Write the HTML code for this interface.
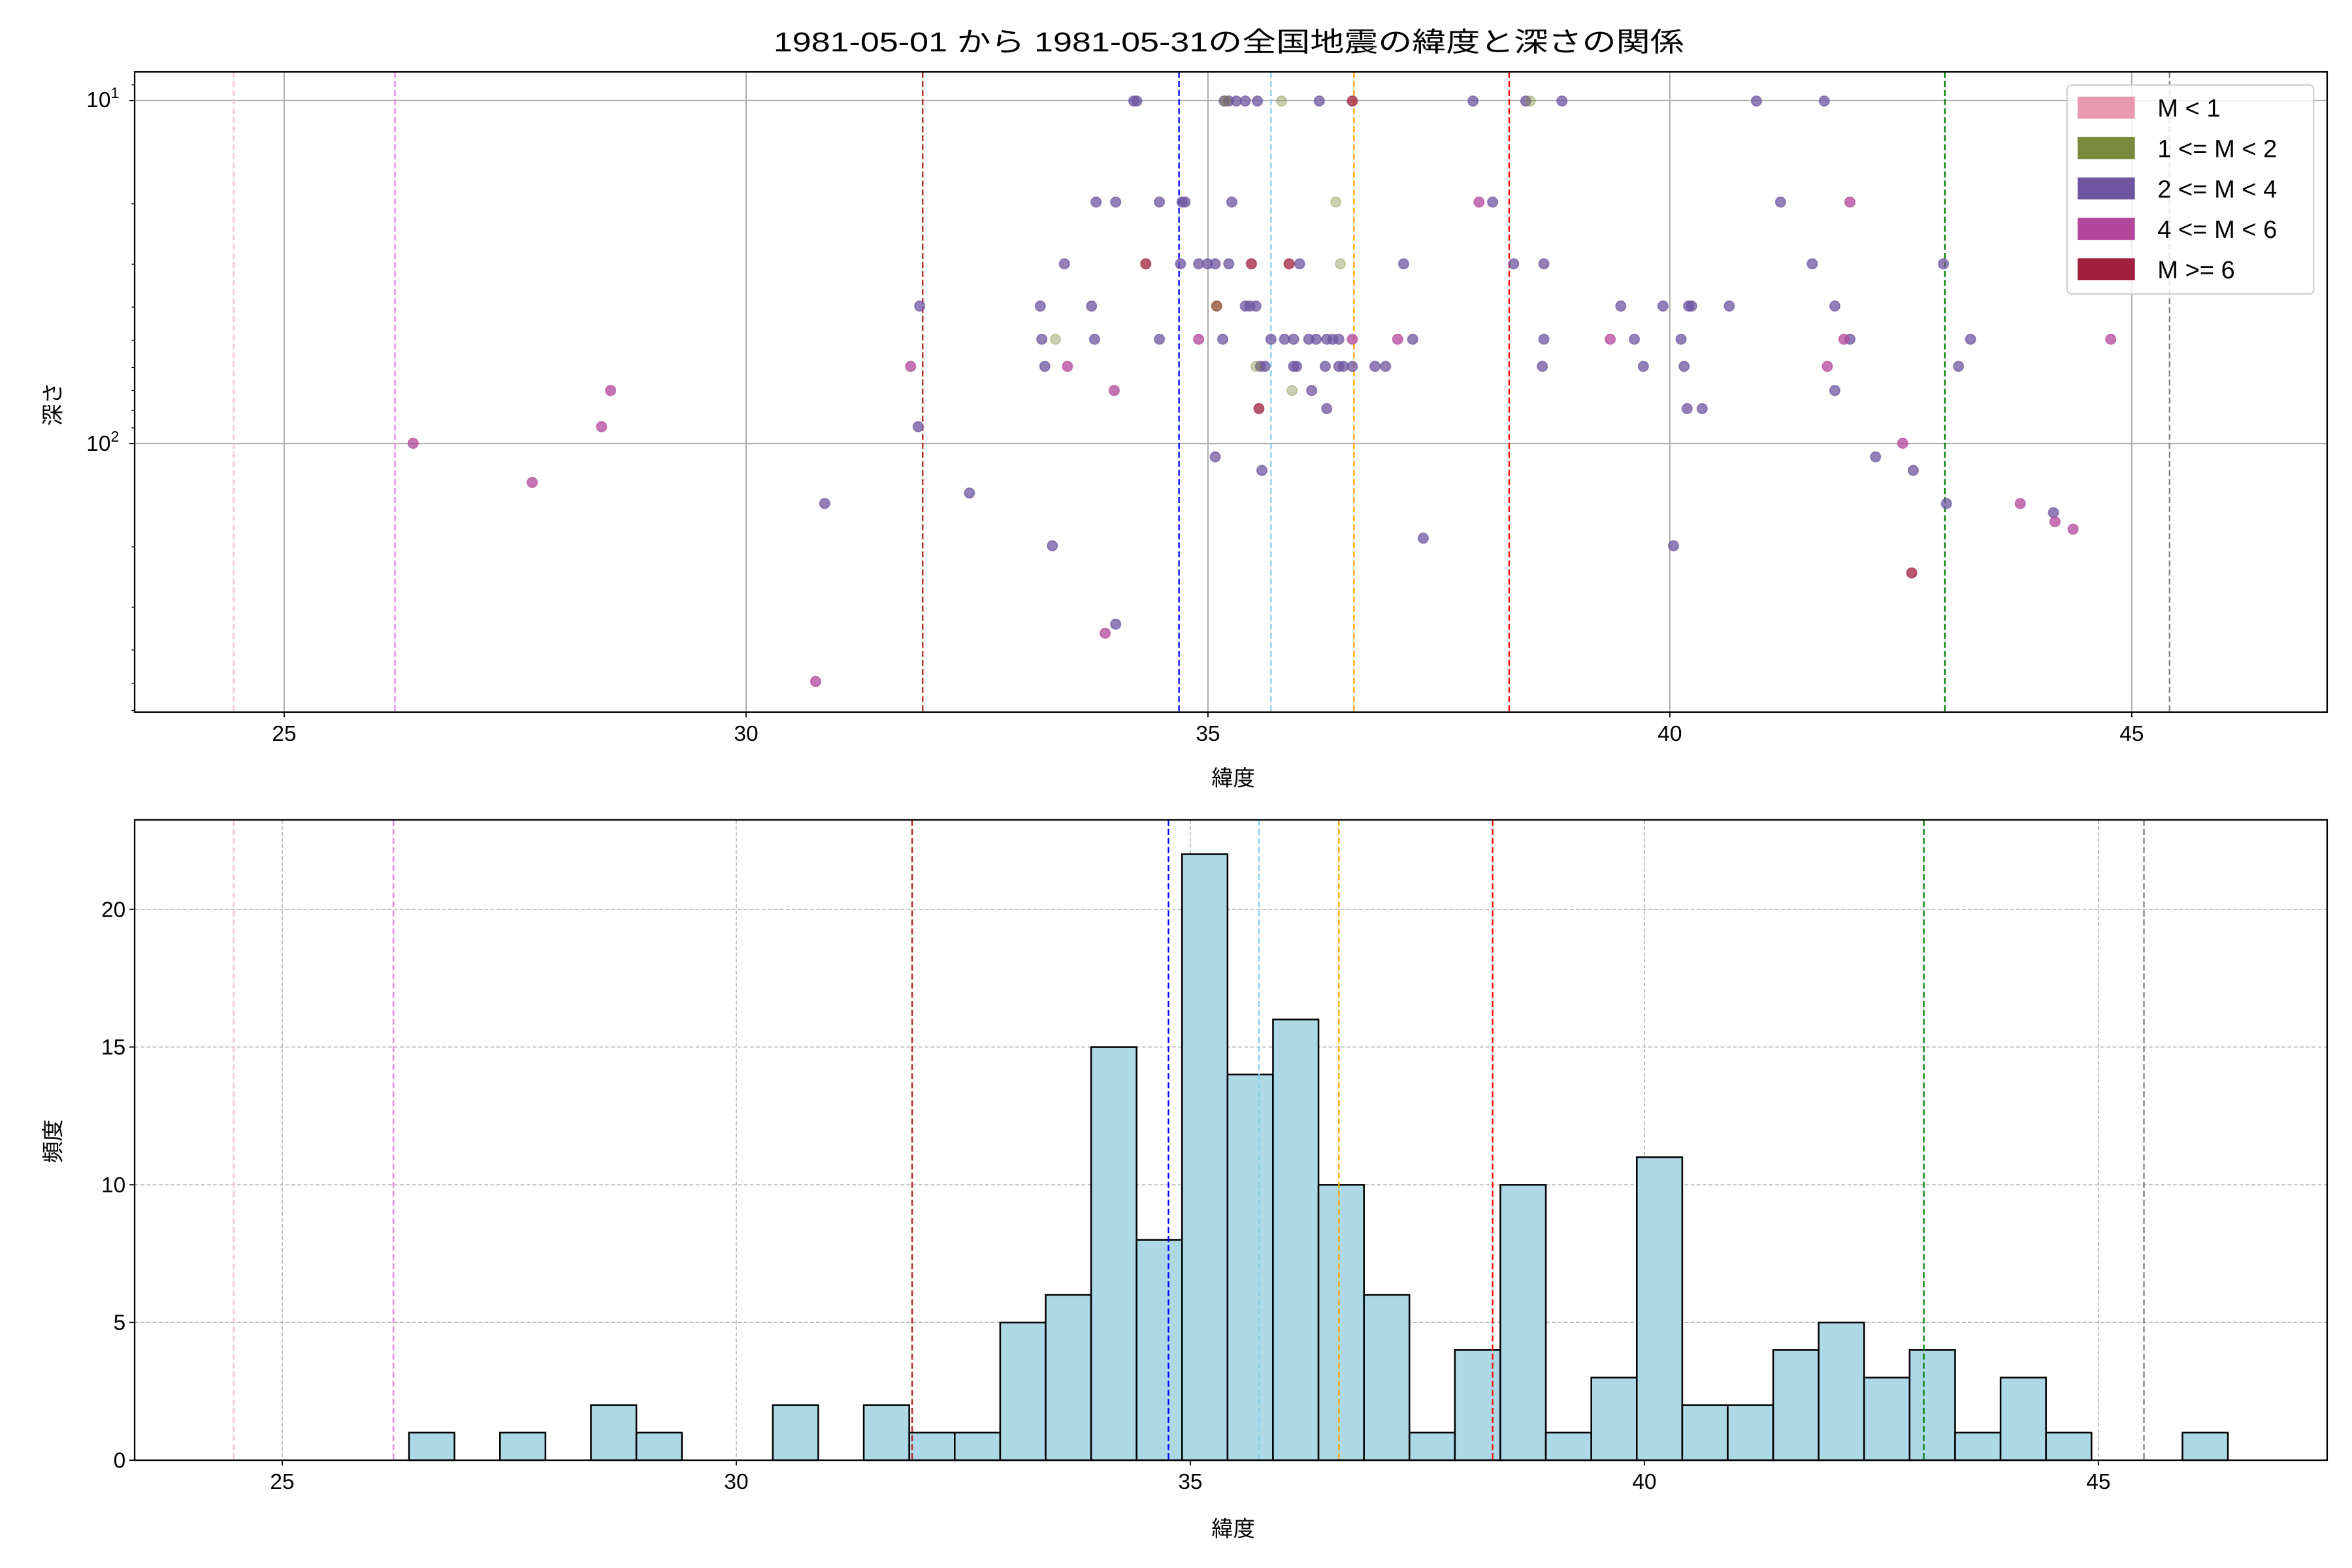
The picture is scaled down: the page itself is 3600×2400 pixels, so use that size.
<!DOCTYPE html>
<html><head><meta charset="utf-8"><style>html,body{margin:0;padding:0;background:#fff}svg{display:block}text{font-family:"Liberation Sans","Noto Sans CJK JP",sans-serif;fill:#000}</style></head>
<body>
<svg id="s" xmlns="http://www.w3.org/2000/svg" width="3600" height="2400" viewBox="0 0 1560 1040">
<rect width="1560" height="1040" fill="#fff"/>
<g id="g"></g>
</svg>
<script>
var g=document.getElementById('g'),h='';
function L(x1,y1,x2,y2,c,w,d){h+='<line x1="'+x1+'" y1="'+y1+'" x2="'+x2+'" y2="'+y2+'" stroke="'+c+'" stroke-width="'+w+'"'+(d?' stroke-dasharray="'+d+'"':'')+'/>';}
function T(x,y,t,a,fs,ex){h+='<text x="'+x+'" y="'+y+'" font-size="'+fs+'" text-anchor="'+a+'" '+(ex||'')+'>'+t+'</text>';}
// ---- top axes
var AL=89.3,AR=1543.5,AT=47.7,AB=472.3;
function tx(d){return 188.5+(d-25)*61.27;}
function ty(d){return 66.7+(Math.log10(d)-1)*227.5;}
[25,30,35,40,45].forEach(function(v){var x=tx(v);L(x,AT,x,AB,'#b0b0b0',0.9);L(x,AB,x,AB+3.5,'#000',0.8);T(x,AB+19,v,'middle',14.5);});
[10,100].forEach(function(v){var y=ty(v);L(AL,y,AR,y,'#b0b0b0',0.9);L(AL-3.5,y,AL,y,'#000',0.8);});
T(79,71,'10<tspan dy="-6" font-size="10">1</tspan>','end',14.5);
T(79,299,'10<tspan dy="-6" font-size="10">2</tspan>','end',14.5);
[9,20,30,40,50,60,70,80,90,200,300,400,500,600].forEach(function(v){var y=ty(v);if(y>AT&&y<AB)L(AL-2,y,AL,y,'#000',0.6);});
var vt=[[155,'pink'],[262,'violet'],[612,'#b22222'],[782,'blue'],[843,'skyblue'],[898,'orange'],[1001,'red'],[1290,'green'],[1439,'gray']];
vt.forEach(function(a){L(a[0],AT,a[0],AB,a[1],1,'4,2');});
var C={o:'#7a8a3d',p:'#6f55a0',m:'#b3479b',r:'#a0213e',b:'#8b4a2a'};
var pts=[
[67,'p',752,754,812,815,820,826,834,875,977,1012,1036,1165,1210],[67,'o',850,1015,813],[67,'r',897],
[134,'p',727,740,769,784,786,817,990,1181],[134,'o',886],[134,'m',981,1227],
[175,'p',706,783,795,801,806,815,862,931,1004,1024,1202,1289],[175,'r',760,830,855],[175,'o',889],
[203,'p',610,690,724,826,829,833,1075,1103,1120,1122,1147,1217],[203,'b',807],
[225,'p',691,726,769,811,843,852,858,868,873,880,884,888,937,1024,1084,1115,1227,1307],[225,'o',700],[225,'m',795,897,927,1068,1223,1400],
[243,'p',693,836,839,858,860,879,888,891,897,912,919,1023,1090,1117,1299],[243,'o',833],[243,'m',604,708,1212],
[259,'m',405,739],[259,'o',857],[259,'p',870,1217],
[271,'r',835],[271,'p',880,1119,1129],
[283,'m',399],[283,'p',609],[294,'m',274,1262],[303,'p',806,1244],[312,'p',837,1269],[320,'m',353],[327,'p',643],
[334,'p',547,1291],[334,'m',1340],[340,'p',1362],[346,'m',1363],[351,'m',1375],[357,'p',944],[362,'p',698,1110],
[380,'r',1268],[414,'p',740],[420,'m',733],[452,'m',541]];
pts.forEach(function(r){var y=r[0],c=C[r[1]];for(var i=2;i<r.length;i++){var op=r[1]=='o'?0.4:0.75;h+='<circle cx="'+r[i]+'" cy="'+y+'" r="3.3" fill="'+c+'" fill-opacity="'+op+'" stroke="'+c+'" stroke-opacity="'+(op*0.9)+'" stroke-width="0.8"/>';}});
h+='<rect x="'+AL+'" y="'+AT+'" width="'+(AR-AL)+'" height="'+(AB-AT)+'" fill="none" stroke="#000" stroke-width="1"/>';
// legend
h+='<rect x="1371" y="56.4" width="163.6" height="138.6" rx="3" fill="#fff" fill-opacity="0.8" stroke="#d0d0d0" stroke-width="1"/>';
var lg=[['#e899b0','M &lt; 1'],['#7a8a3d','1 &lt;= M &lt; 2'],['#6f55a0','2 &lt;= M &lt; 4'],['#b3479b','4 &lt;= M &lt; 6'],['#a0213e','M &gt;= 6']];
lg.forEach(function(a,i){var cy=71.4+i*26.8;h+='<rect x="1378" y="'+(cy-7.3)+'" width="38" height="14.6" fill="'+a[0]+'"/>';T(1431,cy+6,a[1],'start',16.5);});
T(815,34,'1981-05-01 から 1981-05-31の全国地震の緯度と深さの関係','middle',18,'textLength="604" lengthAdjust="spacingAndGlyphs"');
T(818,521,'緯度','middle',14.5);
T(40,268,'深さ','middle',14.5,'transform="rotate(-90 40 268)"');
// ---- bottom axes
var BT=543.8,BB=968.5;
function bx(d){return 187.2+(d-25)*60.23;}
function by(c){return BB-c*18.27;}
[25,30,35,40,45].forEach(function(v){var x=bx(v);L(x,BT,x,BB,'#b0b0b0',0.7,'2.5,1.5');L(x,BB,x,BB+3.5,'#000',0.8);T(x,BB+19,v,'middle',14.5);});
[0,5,10,15,20].forEach(function(v){var y=by(v);L(AL,y,AR,y,'#b0b0b0',0.7,'2.5,1.5');L(AL-3.5,y,AL,y,'#000',0.8);T(AL-6,y+5,v,'end',14.5);});
var cnt=[1,0,1,0,2,1,0,0,2,0,2,1,1,5,6,15,8,22,14,16,10,6,1,4,10,1,3,11,2,2,4,5,3,4,1,3,1,0,0,1];
var x0=271.3,bw=30.16;
cnt.forEach(function(c,i){var x=x0+i*bw;h+='<rect x="'+x+'" y="'+by(c)+'" width="'+bw+'" height="'+(c*18.27)+'" fill="#add8e6" stroke="#000" stroke-width="1.1"/>';});
var vb=[[155,'pink'],[261,'violet'],[605,'#b22222'],[775,'blue'],[835,'skyblue'],[888,'orange'],[990,'red'],[1276,'green'],[1422,'gray']];
vb.forEach(function(a){L(a[0],BT,a[0],BB,a[1],1,'4,2');});
h+='<rect x="'+AL+'" y="'+BT+'" width="'+(AR-AL)+'" height="'+(BB-BT)+'" fill="none" stroke="#000" stroke-width="1"/>';
T(818,1019,'緯度','middle',14.5);
T(40,757,'頻度','middle',14.5,'transform="rotate(-90 40 757)"');
g.innerHTML=h;
</script>
</body></html>
